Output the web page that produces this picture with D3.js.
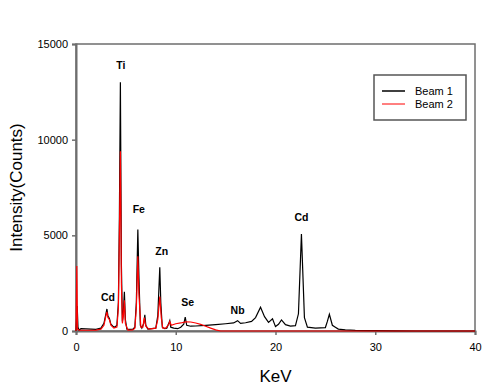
<!DOCTYPE html>
<html>
<head>
<meta charset="utf-8">
<script src="https://cdn.jsdelivr.net/npm/d3@7/dist/d3.min.js"></script>
<style>
  body { margin: 0; background: #fff; }
  text { font-family: "Liberation Sans", Arial, sans-serif; }
</style>
</head>
<body>
<script>
// spectrum (keV, counts)
var beam1Kev = [0, 0.12, 0.2, 0.3, 0.5, 1.0, 1.5, 2.0, 2.5, 2.8, 3.0, 3.1, 3.2, 3.35, 3.5, 3.7, 3.9, 4.1, 4.25, 4.35, 4.45, 4.55, 4.65, 4.75, 4.85, 4.95, 5.1, 5.4, 5.7, 5.9, 6.05, 6.2, 6.3, 6.45, 6.6, 6.8, 6.9, 7.0, 7.2, 7.6, 8.0, 8.2, 8.4, 8.5, 8.65, 8.9, 9.1, 9.3, 9.4, 9.5, 9.8, 10.2, 10.5, 10.8, 10.95, 11.1, 11.5, 12.0, 13.0, 14.0, 15.0, 15.8, 16.2, 16.5, 17.0, 17.6, 18.0, 18.5, 18.9, 19.3, 19.7, 20.0, 20.3, 20.6, 21.0, 21.5, 22.0, 22.3, 22.6, 22.9, 23.2, 24.0, 25.0, 25.2, 25.4, 25.7, 26.0, 26.3, 27.0, 28.0, 30.0, 32.0, 34.0, 40.0];
var beam1Counts = [0, 1300, 200, 50, 120, 110, 100, 90, 150, 400, 900, 1150, 800, 650, 350, 250, 200, 300, 1500, 6000, 13000, 3500, 500, 1000, 2050, 600, 100, 80, 100, 200, 1500, 5300, 3000, 300, 150, 400, 850, 300, 100, 120, 150, 800, 3330, 1500, 200, 120, 150, 400, 540, 200, 150, 120, 200, 350, 720, 300, 250, 260, 290, 330, 380, 420, 540, 400, 430, 500, 700, 1240, 750, 450, 640, 230, 350, 580, 330, 260, 280, 900, 5070, 700, 200, 150, 180, 500, 870, 300, 200, 100, 60, 30, 20, 10, 0, 0];

var beam2Kev = [0, 0.08, 0.15, 0.3, 1.0, 2.0, 2.5, 2.8, 3.0, 3.1, 3.2, 3.35, 3.5, 3.8, 4.1, 4.25, 4.35, 4.45, 4.55, 4.65, 4.75, 4.85, 4.95, 5.2, 5.7, 5.9, 6.05, 6.2, 6.3, 6.5, 6.7, 6.85, 7.0, 7.3, 8.0, 8.2, 8.4, 8.55, 8.7, 9.0, 9.3, 9.4, 9.55, 10.0, 10.5, 11.0, 11.5, 12.0, 12.5, 13.0, 13.5, 14.0, 14.5, 40.0];
var beam2Counts = [0, 3400, 100, 50, 40, 50, 100, 300, 800, 1000, 700, 600, 300, 150, 200, 1200, 5000, 9400, 2500, 400, 800, 1600, 400, 50, 60, 150, 1200, 3900, 2000, 200, 200, 700, 250, 100, 150, 600, 1800, 700, 150, 150, 350, 500, 300, 380, 420, 480, 470, 420, 350, 250, 150, 60, 0, 0];

var peakNames = ["Ti", "Fe", "Zn", "Cd", "Se", "Nb", "Cd"];
var peakKev = [4.5, 6.3, 8.6, 3.2, 11.2, 16.2, 22.6];
var peakLabelCounts = [13700, 6150, 3950, 1550, 1300, 900, 5750];

var xTicks = [0, 10, 20, 30, 40];
var yTicks = [0, 5000, 10000, 15000];
var seriesNames = ["Beam 1", "Beam 2"];
var seriesColors = ["#000000", "#ff0000"];

var width = 500, height = 388;
var margin = { top: 44, right: 25, bottom: 57, left: 76 };
var w = width - margin.left - margin.right, h = height - margin.top - margin.bottom;

var x = d3.scaleLinear().domain([0, 40]).range([0, w]);
var y = d3.scaleLinear().domain([0, 15000]).range([h, 0]);

var svg = d3.select("body").append("svg").attr("width", width).attr("height", height);
var g = svg.append("g").attr("transform", "translate(" + margin.left + "," + margin.top + ")");

// frame
g.append("rect").attr("x", 0).attr("y", 0).attr("width", w).attr("height", h)
  .attr("fill", "none").attr("stroke", "#6e6e6e").attr("stroke-width", 1.5);

var xAxis = g.append("g").attr("transform", "translate(0," + h + ")")
  .call(d3.axisBottom(x).tickValues(xTicks).tickSize(4).tickPadding(8));
var yAxis = g.append("g")
  .call(d3.axisLeft(y).tickValues(yTicks).tickFormat(d3.format("d")).tickSize(4).tickPadding(4));
[xAxis, yAxis].forEach(function(a) {
  a.select(".domain").attr("stroke", "#6e6e6e").attr("stroke-width", 2);
  a.selectAll(".tick line").attr("stroke", "#6e6e6e").attr("stroke-width", 1.5);
  a.selectAll(".tick text").attr("font-size", 11).attr("fill", "#000")
    .attr("font-family", "'Liberation Sans', Arial, sans-serif");
});

var line = d3.line().x(function(d) { return x(d[0]); }).y(function(d) { return y(d[1]); });

g.append("path").datum(d3.zip(beam1Kev, beam1Counts))
  .attr("fill", "none").attr("stroke", seriesColors[0]).attr("stroke-width", 1.2).attr("d", line);
g.append("path").datum(d3.zip(beam2Kev, beam2Counts))
  .attr("fill", "none").attr("stroke", seriesColors[1]).attr("stroke-width", 1.2).attr("d", line);

// peak labels
g.selectAll(".peak").data(peakNames).enter().append("text")
  .attr("x", function(d, i) { return x(peakKev[i]); })
  .attr("y", function(d, i) { return y(peakLabelCounts[i]); })
  .attr("text-anchor", "middle").attr("font-size", 10.5).attr("font-weight", "bold")
  .text(function(d) { return d; });

// axis titles
svg.append("text").attr("x", margin.left + w / 2).attr("y", 382)
  .attr("text-anchor", "middle").attr("font-size", 17).text("KeV");
svg.append("text").attr("transform", "translate(22," + (margin.top + h / 2) + ") rotate(-90)")
  .attr("text-anchor", "middle").attr("font-size", 17).text("Intensity(Counts)");

// legend
var lg = svg.append("g").attr("transform", "translate(374,75)");
lg.append("rect").attr("width", 92).attr("height", 45)
  .attr("fill", "#fff").attr("stroke", "#555").attr("stroke-width", 1.5);
seriesNames.forEach(function(name, i) {
  lg.append("line").attr("x1", 8).attr("x2", 31).attr("y1", 16 + i * 13).attr("y2", 16 + i * 13)
    .attr("stroke", seriesColors[i]).attr("stroke-width", i === 0 ? 1.5 : 1);
  lg.append("text").attr("x", 41).attr("y", 20 + i * 13).attr("font-size", 11).text(name);
});
</script>
</body>
</html>
